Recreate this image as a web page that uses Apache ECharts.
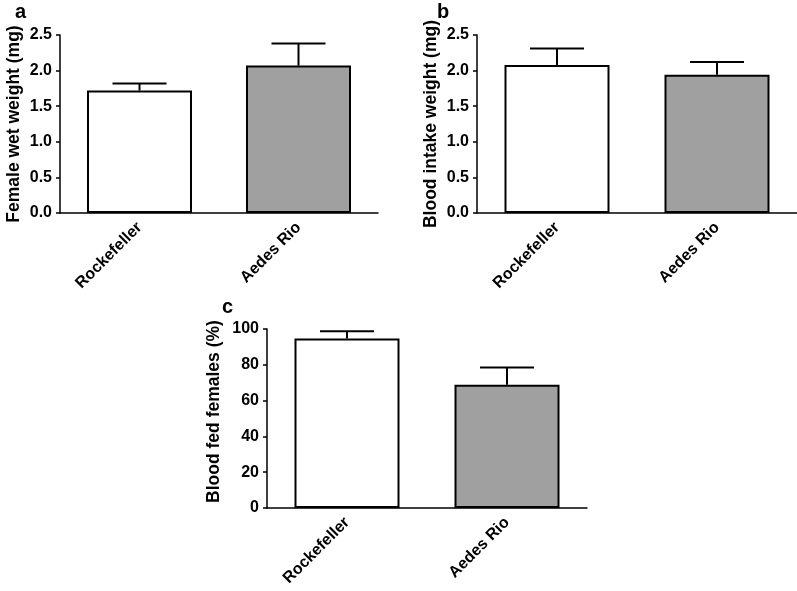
<!DOCTYPE html>
<html>
<head>
<meta charset="utf-8">
<script src="https://cdn.jsdelivr.net/npm/echarts@6/dist/echarts.min.js"></script>
<style>
html,body{margin:0;padding:0;background:#fff;}
#chart{width:797px;height:591px;}
</style>
</head>
<body>
<div id="chart"></div>
<script>
// ---- data ----
const categories = ['Rockefeller', 'Aedes Rio'];
const wetWeight = [1.72, 2.07];
const wetWeightErr = [0.10, 0.31];
const bloodIntake = [2.08, 1.94];
const bloodIntakeErr = [0.23, 0.18];
const bloodFed = [94.7, 68.9];
const bloodFedErr = [4.0, 9.6];
const barColors = ['#ffffff', '#a0a0a0'];
const panelLetters = ['a', 'b', 'c'];
const yTitles = ['Female wet weight (mg)', 'Blood intake weight (mg)', 'Blood fed females (%)'];

const FONT = 'Liberation Sans, Arial, sans-serif';

const grids = [
  {left: 60, top: 35, width: 318, height: 178},
  {left: 477, top: 35, width: 320, height: 178},
  {left: 267, top: 329, width: 320, height: 179}
];
const yRanges = [
  {min: 0, max: 2.5, interval: 0.5, dec: 1},
  {min: 0, max: 2.5, interval: 0.5, dec: 1},
  {min: 0, max: 100, interval: 20, dec: 0}
];
const values = [wetWeight, bloodIntake, bloodFed];
const errs = [wetWeightErr, bloodIntakeErr, bloodFedErr];

const xAxes = [], yAxes = [], series = [];
grids.forEach((g, i) => {
  xAxes.push({
    type: 'category', gridIndex: i, data: categories,
    axisLine: {lineStyle: {color: '#000', width: 1.5}},
    axisTick: {alignWithLabel: true, length: 5, lineStyle: {color: '#000', width: 1.5}},
    axisLabel: {rotate: 45, margin: 12, color: '#000', fontWeight: 'bold', fontSize: 16, fontFamily: FONT, interval: 0}
  });
  const r = yRanges[i];
  yAxes.push({
    type: 'value', gridIndex: i, min: r.min, max: r.max, interval: r.interval,
    name: yTitles[i], nameLocation: 'middle', nameGap: i === 2 ? 44 : 37,
    nameTextStyle: {color: '#000', fontWeight: 'bold', fontSize: 17.5, fontFamily: FONT,
      padding: i === 2 ? [0, 0, 0, 14] : 0},
    axisLine: {show: true, lineStyle: {color: '#000', width: 1.5}},
    axisTick: {show: true, length: 4, lineStyle: {color: '#000', width: 1.5}},
    splitLine: {show: false},
    axisLabel: {margin: 8, color: '#000', fontWeight: 'bold', fontSize: 16, fontFamily: FONT,
      formatter: v => v.toFixed(r.dec)}
  });
  series.push({
    type: 'bar', xAxisIndex: i, yAxisIndex: i, barWidth: 105,
    data: values[i].map((v, k) => ({value: v, itemStyle: {color: barColors[k]}})),
    itemStyle: {borderColor: '#000', borderWidth: 2},
    z: 2
  });
  series.push({
    type: 'custom', xAxisIndex: i, yAxisIndex: i, z: 3,
    data: values[i].map((v, k) => [k, v, errs[i][k]]),
    encode: {x: 0, y: 1},
    renderItem: function (params, api) {
      const k = api.value(0), v = api.value(1), e = api.value(2);
      const p0 = api.coord([k, v]);
      const p1 = api.coord([k, v + e]);
      const hw = 27;
      const st = {stroke: '#000', lineWidth: 2};
      return {type: 'group', children: [
        {type: 'line', shape: {x1: p0[0], y1: p0[1], x2: p1[0], y2: p1[1]}, style: st},
        {type: 'line', shape: {x1: p1[0] - hw, y1: p1[1], x2: p1[0] + hw, y2: p1[1]}, style: st}
      ]};
    }
  });
});

const letterPos = [[20, 14], [442, 14], [227, 309]];
const graphic = panelLetters.map((t, i) => ({
  type: 'text', left: letterPos[i][0] - 5, top: letterPos[i][1] - 12,
  style: {text: t, fill: '#000', font: 'bold 20px ' + FONT}
}));

const chart = echarts.init(document.getElementById('chart'), null, {renderer: 'canvas'});
chart.setOption({
  animation: false,
  backgroundColor: '#fff',
  grid: grids,
  xAxis: xAxes,
  yAxis: yAxes,
  series: series,
  graphic: graphic
});
</script>
</body>
</html>
